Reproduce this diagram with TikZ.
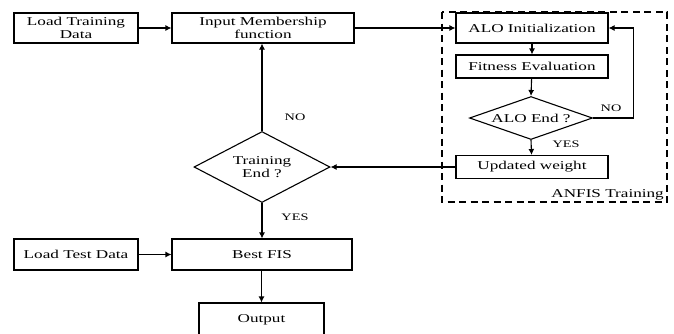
\documentclass[tikz,border=0pt]{standalone}
\usepackage{fontspec}
\setmainfont[FakeStretch=1.43]{Liberation Serif}
\usetikzlibrary{shapes.geometric,arrows.meta}
\begin{document}
\begin{tikzpicture}[x=1pt,y=-1pt,
  every node/.style={font=\fontsize{12}{13}\selectfont},
  box/.style={draw,line width=1.1pt,inner sep=0pt,align=center},
  dia/.style={draw,diamond,line width=1.1pt,inner sep=0pt,align=center},
  lbl/.style={font=\fontsize{10}{11}\selectfont},
  arr/.style={line width=1.1pt,-{Latex[length=6pt,width=6pt]}}]
\useasboundingbox (0,0) rectangle (674,333);
\clip (0,0) rectangle (674,333);
\node[box,minimum width=124pt,minimum height=30pt] (ltd) at (76,28) {Load Training\\Data};
\node[box,minimum width=182pt,minimum height=30pt] (imf) at (263,28) {Input Membership\\function};
\node[box,minimum width=152pt,minimum height=30pt] (init) at (532,28) {ALO Initialization};
\node[box,minimum width=152pt,minimum height=23pt] (fit) at (532,66.5) {Fitness Evaluation};
\node[dia,minimum width=123pt,minimum height=43pt,aspect=2.86] (aend) at (531,118) {ALO End ?};
\node[box,minimum width=152pt,minimum height=23pt] (upd) at (532,167) {Updated weight};
\node[dia,minimum width=136pt,minimum height=71pt,aspect=1.92] (tend) at (262,167) {Training\\End ?};
\node[box,minimum width=180pt,minimum height=31pt] (best) at (262,254.5) {Best FIS};
\node[box,minimum width=124pt,minimum height=31pt] (ltest) at (76,254.5) {Load Test Data};
\node[box,minimum width=125pt,minimum height=34pt] (out) at (261.5,320) {Output};
\draw[line width=1.1pt,dash pattern=on 7pt off 4.5pt] (442,12) rectangle (667,202);
\node[anchor=south east,inner sep=1pt] (anfis) at (665,201) {ANFIS Training};
\draw[arr] (ltd) -- (imf);
\draw[arr] (imf.east) -- (init.west);
\draw[arr] (init) -- (fit);
\draw[arr] (fit) -- (aend.north);
\draw[arr] (aend.south) -- (upd);
\draw[arr] (aend.east) -- ++(40,0) |- (init.east);
\draw[arr] (upd.west) -- (tend.east);
\draw[arr] (tend.north) -- (tend.north |- imf.south);
\draw[arr] (tend.south) -- (best.north);
\draw[arr] (ltest) -- (best);
\draw[arr] (best.south -| out.north) -- (out.north);
\node[lbl] (no1) at (295,117) {NO};
\node[lbl] (yes1) at (295,217) {YES};
\node[lbl] (no2) at (611,108) {NO};
\node[lbl] (yes2) at (566,144) {YES};
\end{tikzpicture}
\end{document}
